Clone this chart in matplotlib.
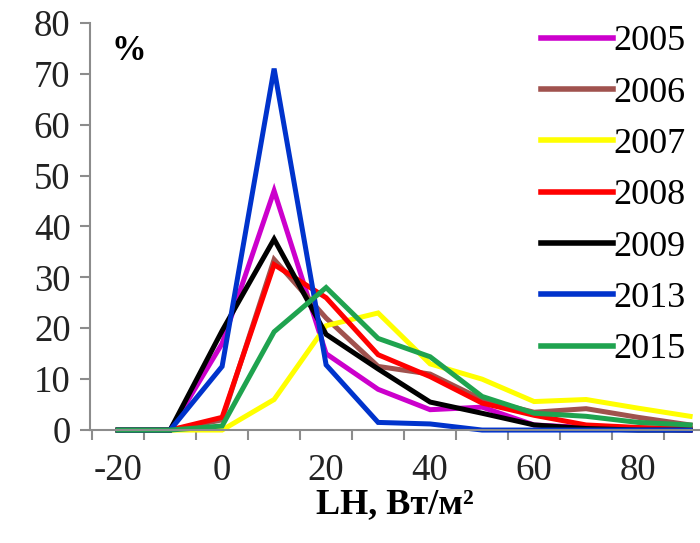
import numpy as np
import matplotlib
matplotlib.use("Agg")
import matplotlib.pyplot as plt

# 数据
lh = [-20, -10, 0, 10, 20, 30, 40, 50, 60, 70, 80, 90]
y2005 = [0, 0, 17, 47, 15, 8, 4, 4.5, 1, 0.5, 0.3, 0]
y2006 = [0, 0, 2, 33.5, 22, 12.5, 11, 6, 3.5, 4.2, 2.5, 1]
y2007 = [0, 0, 0, 6, 20.5, 23, 13, 10, 5.6, 6, 4.3, 2.7]
y2008 = [0, 0, 2.5, 32.5, 26, 14.8, 10.5, 5.3, 2.9, 1, 0.5, 0.3]
y2009 = [0, 0, 19.5, 37.5, 18.8, 12, 5.5, 3.3, 1, 0.3, 0, 0]
y2013 = [0, 0, 12.5, 71, 12.8, 1.5, 1.2, 0, 0, 0, 0, 0]
y2015 = [0, 0, 0.8, 19.3, 28, 18, 14.4, 6.6, 3.3, 2.7, 1.5, 1]

years = ["2005", "2006", "2007", "2008", "2009", "2013", "2015"]
series = [y2005, y2006, y2007, y2008, y2009, y2013, y2015]
colors = ["#CC00CC", "#A0524E", "#FFFF00", "#FF0000", "#000000", "#0033CC", "#1FA34F"]

plt.rcParams["font.family"] = ["Liberation Serif", "DejaVu Serif"]
plt.rcParams["axes.unicode_minus"] = False

fig = plt.figure(figsize=(7.0, 5.43), dpi=100)
ax = fig.add_axes([0.1286, 0.208, 0.8714, 0.75])

for vals, c, name in zip(series, colors, years):
    ax.plot(lh, vals, color=c, lw=3.6, label=name, solid_joinstyle="miter", clip_on=False)

ax.set_xlim(-25.4, 91.9)
ax.set_ylim(0, 80)

# 坐标轴样式
for s in ["top", "right"]:
    ax.spines[s].set_visible(False)
for s in ["left", "bottom"]:
    ax.spines[s].set_color("#8c8c8c")
    ax.spines[s].set_linewidth(1.5)

ax.set_yticks(np.arange(0, 81, 10))
ax.tick_params(axis="y", direction="out", length=7, width=1.5, color="#8c8c8c",
               labelsize=26.5, pad=7, labelcolor="#222222")
ax.set_xticks(np.arange(-20, 81, 20))
ax.set_xticks(np.arange(-25, 90, 10), minor=True)
ax.tick_params(axis="x", which="major", length=0, labelsize=26.5, pad=17, labelcolor="#222222")
ax.tick_params(axis="x", which="minor", direction="out", length=7, width=1.5, color="#8c8c8c")

ax.set_xlabel("LH, Вт/м²", fontsize=26, fontweight="bold", labelpad=0)
ax.text(0.035, 0.93, "%", transform=ax.transAxes, fontsize=25, fontweight="bold",
        va="center", ha="left")

leg = ax.legend(loc="upper right", bbox_to_anchor=(1.0, 1.03), frameon=False,
                fontsize=26, handlelength=2.0, handletextpad=0.0,
                labelspacing=0.5, borderaxespad=0.0)
for h in leg.get_lines():
    h.set_linewidth(4)

fig.savefig("out.png", dpi=100)
plt.close(fig)
